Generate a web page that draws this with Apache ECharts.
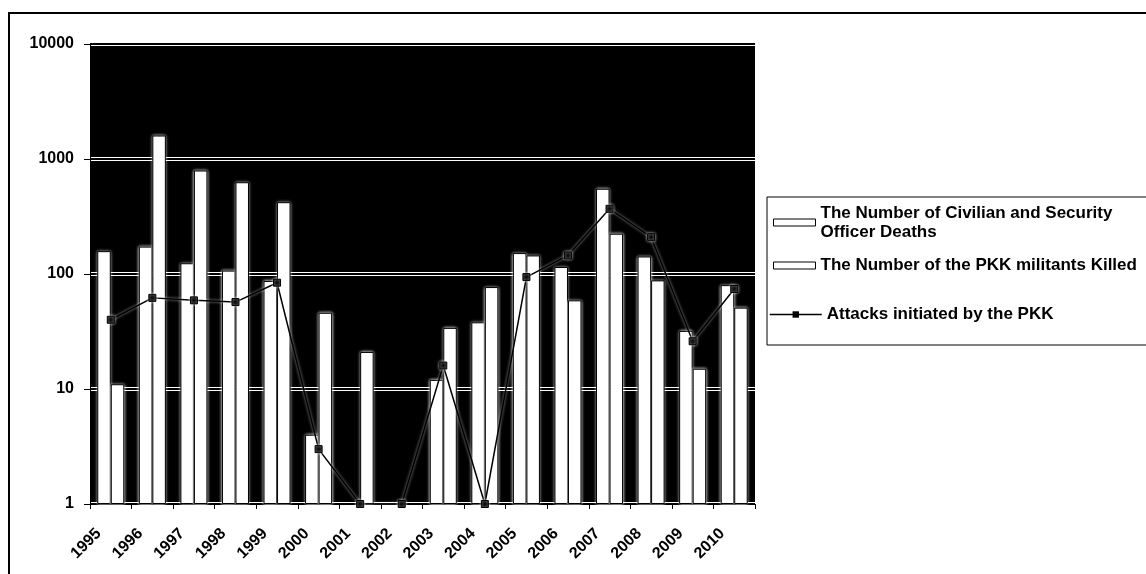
<!DOCTYPE html>
<html>
<head>
<meta charset="utf-8">
<script src="https://cdn.jsdelivr.net/npm/echarts@6/dist/echarts.min.js"></script>
<style>
html,body{margin:0;padding:0;background:#fff;}
#chart{width:1146px;height:574px;}
</style>
</head>
<body>
<div id="chart"></div>
<script>
var categories = ['1995','1996','1997','1998','1999','2000','2001','2002','2003','2004','2005','2006','2007','2008','2009','2010'];
var civilianDeaths = [158, 173, 124, 107, 87, 4, null, null, 12, 38, 152, 115, 551, 142, 32, 80];
var pkkKilled = [11, 1600, 794, 628, 421, 46, 21, null, 34, 77, 145, 59, 224, 88, 15, 51];
var pkkAttacks = [40, 62, 59, 57, 84, 3, 1, 1, 16, 1, 94, 145, 369, 209, 26, 74];
var yTicks = [1, 10, 100, 1000, 10000];

var FONT = 'Liberation Sans, Arial, sans-serif';
var nameCiv = 'The Number of Civilian and Security Officer Deaths';
var namePkk = 'The Number of the PKK militants Killed';
var nameAtt = 'Attacks initiated by the PKK';

var chart = echarts.init(document.getElementById('chart'));
var barStyle = {
  color: '#fff', borderColor: '#000', borderWidth: 1,
  shadowColor: 'rgba(255,255,255,0.95)', shadowBlur: 3
};
var legendItemStyle = { color: '#fff', borderColor: '#000', borderWidth: 1, shadowBlur: 0, shadowColor: 'transparent' };
var option = {
  animation: false,
  backgroundColor: '#fff',
  grid: { left: 90, right: 391, top: 44, bottom: 70, show: true, backgroundColor: '#000', borderWidth: 0 },
  xAxis: {
    type: 'category', data: categories,
    axisLine: { lineStyle: { color: '#000', width: 1 } },
    axisTick: { show: true, length: 5, lineStyle: { color: '#000' } },
    axisLabel: { interval: 0, rotate: 45, fontSize: 16, fontWeight: 'bold', color: '#000', fontFamily: FONT, margin: 15, padding: [0, 17, 0, 0] },
    splitLine: { show: false }
  },
  yAxis: [{
    type: 'log', logBase: 10, min: 1, max: 10000,
    axisLine: { show: true, lineStyle: { color: '#000', width: 1 } },
    axisTick: { show: true, length: 6, lineStyle: { color: '#000' } },
    axisLabel: { fontSize: 16, fontWeight: 'bold', color: '#000', fontFamily: FONT, margin: 16,
      formatter: function (v) { return yTicks.indexOf(Math.round(v)) >= 0 ? String(Math.round(v)) : ''; } },
    splitLine: { show: true, lineStyle: { color: '#fff', width: 4 } },
    minorTick: { show: false }
  }, {
    type: 'log', logBase: 10, min: 1, max: 10000, position: 'left',
    axisLine: { show: false }, axisTick: { show: false }, axisLabel: { show: false },
    splitLine: { show: true, lineStyle: { color: '#000', width: 2 } }
  }],
  legend: [{
    data: [nameCiv], left: 768, top: 189, orient: 'vertical', icon: 'rect',
    itemWidth: 42, itemHeight: 7, itemStyle: legendItemStyle,
    formatter: function () { return 'The Number of Civilian and Security\nOfficer Deaths'; },
    textStyle: { fontSize: 17, fontWeight: 'bold', lineHeight: 19, color: '#000', fontFamily: FONT, padding: [19, 0, 0, 0] }
  }, {
    data: [namePkk], left: 768, top: 251, orient: 'vertical', icon: 'rect',
    itemWidth: 42, itemHeight: 7, itemStyle: legendItemStyle,
    textStyle: { fontSize: 17, fontWeight: 'bold', lineHeight: 19, color: '#000', fontFamily: FONT }
  }, {
    data: [nameAtt], left: 764, top: 300, orient: 'vertical',
    itemWidth: 52, itemHeight: 8,
    itemStyle: { color: '#000', shadowBlur: 0, shadowColor: 'transparent' },
    lineStyle: { color: '#000', width: 1.5, shadowBlur: 0, shadowColor: 'transparent' },
    textStyle: { fontSize: 17, fontWeight: 'bold', lineHeight: 19, color: '#000', fontFamily: FONT }
  }],
  graphic: [
    { type: 'rect', shape: { x: 767, y: 197, width: 500, height: 148 }, style: { fill: 'none', stroke: '#000', lineWidth: 1 }, z: 100 },
    { type: 'rect', shape: { x: 9, y: 13, width: 1300, height: 700 }, style: { fill: 'none', stroke: '#000', lineWidth: 2 }, z: 100 }
  ],
  series: [{
    name: nameCiv, type: 'bar', data: civilianDeaths, yAxisIndex: 0,
    barGap: '0%', barCategoryGap: '35%', itemStyle: barStyle
  }, {
    name: namePkk, type: 'bar', data: pkkKilled, yAxisIndex: 0,
    barGap: '0%', barCategoryGap: '35%', itemStyle: barStyle
  }, {
    name: nameAtt, type: 'line', data: pkkAttacks, yAxisIndex: 0, z: 5,
    symbol: 'rect', symbolSize: 7,
    itemStyle: { color: '#000', borderColor: '#000', shadowColor: 'rgba(255,255,255,0.8)', shadowBlur: 3 },
    lineStyle: { color: '#000', width: 1.5, shadowColor: 'rgba(255,255,255,0.7)', shadowBlur: 3 }
  }]
};
chart.setOption(option);
</script>
</body>
</html>
